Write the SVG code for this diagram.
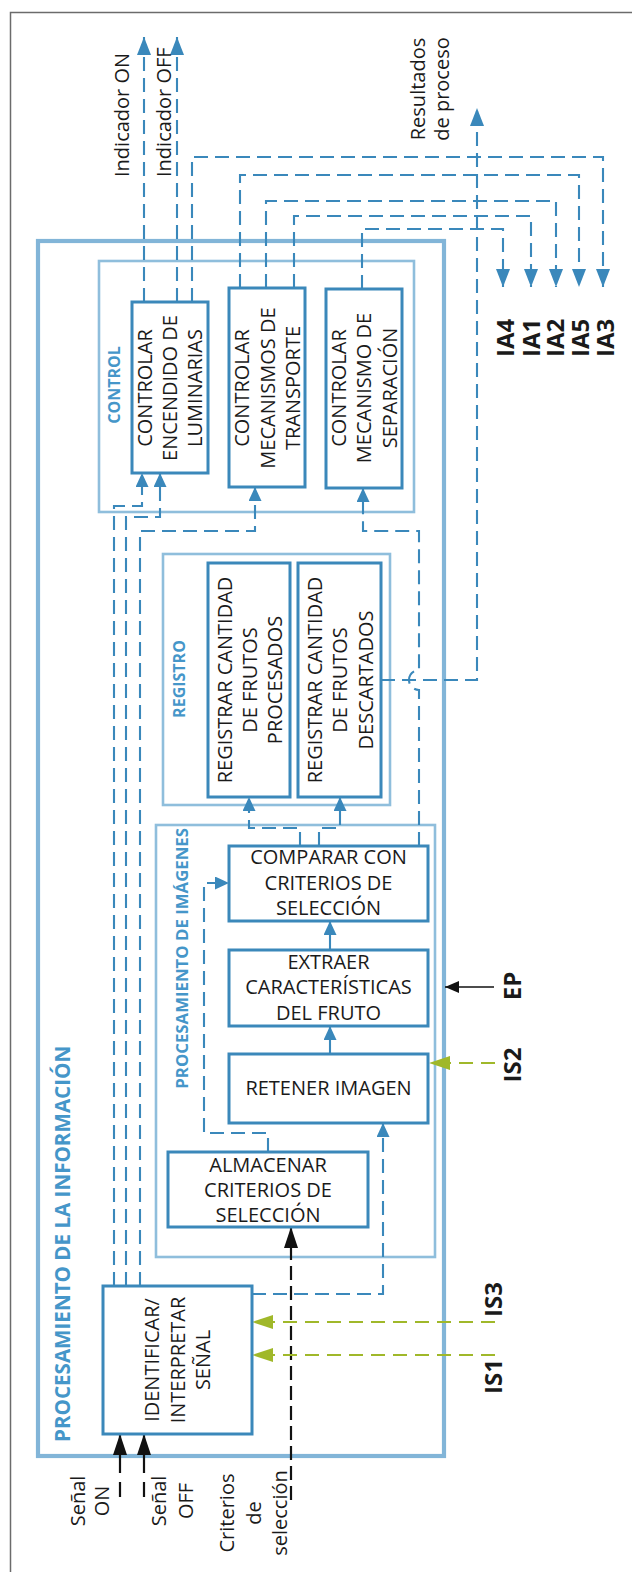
<svg xmlns="http://www.w3.org/2000/svg" width="632" height="1572" viewBox="0 0 632 1572">
<style>
text{font-family:"Open Sans","Liberation Sans",sans-serif;fill:#1a1a1a;font-size:20px}
.b{font-weight:bold}
.ttl{font-weight:bold;fill:#4596c9;font-size:16px}
.box{fill:#fff;stroke:#3b88ba;stroke-width:3}
.grp{fill:none;stroke:#8fbedc;stroke-width:2.6}
.outer{fill:none;stroke:#82b5d8;stroke-width:4.2}
.dash{fill:none;stroke:#3a88bb;stroke-width:2.1;stroke-dasharray:14 7}
.solid{fill:none;stroke:#3a88bb;stroke-width:2.1}
.blk{fill:none;stroke:#111;stroke-width:2.2}
.blkd{fill:none;stroke:#111;stroke-width:2.2;stroke-dasharray:14 6}
.grn{fill:none;stroke:#a0b82a;stroke-width:2.2;stroke-dasharray:14 8}
</style>
<defs>
<marker id="mB" markerUnits="userSpaceOnUse" markerWidth="14" markerHeight="13" refX="14" refY="6.5" orient="auto"><path d="M0,0 L14,6.5 L0,13 z" fill="#3a88bb"/></marker>
<marker id="mBL" markerUnits="userSpaceOnUse" markerWidth="18" markerHeight="14" refX="18" refY="7" orient="auto"><path d="M0,0 L18,7 L0,14 z" fill="#3a88bb"/></marker>
<marker id="mK" markerUnits="userSpaceOnUse" markerWidth="21" markerHeight="14" refX="21" refY="7" orient="auto"><path d="M0,0 L21,7 L0,14 z" fill="#111"/></marker>
<marker id="mKS" markerUnits="userSpaceOnUse" markerWidth="14" markerHeight="12" refX="14" refY="6" orient="auto"><path d="M0,0 L14,6 L0,12 z" fill="#111"/></marker>
<marker id="mG" markerUnits="userSpaceOnUse" markerWidth="21" markerHeight="14" refX="21" refY="7" orient="auto"><path d="M0,0 L21,7 L0,14 z" fill="#a0b82a"/></marker>
</defs>
<rect width="632" height="1572" fill="#fff"/>
<path d="M650,12.5 H10.5 V1580" fill="none" stroke="#6b6b6b" stroke-width="1.5"/>

<g id="outer">
<rect class="outer" x="38" y="241" width="406" height="1215"/>
<text class="b" transform="translate(70,1442) rotate(-90)" style="fill:#4596c9;font-size:20.6px">PROCESAMIENTO DE LA INFORMACIÓN</text>
</g>

<g id="control">
<rect class="grp" x="99" y="261" width="315" height="251"/>
<text class="ttl" transform="translate(120,385) rotate(-90)" text-anchor="middle">CONTROL</text>
</g>
<g id="registro">
<rect class="grp" x="163" y="554" width="227" height="251"/>
<text class="ttl" transform="translate(185,679) rotate(-90)" text-anchor="middle">REGISTRO</text>
</g>
<g id="procimg">
<rect class="grp" x="156" y="825" width="279" height="432"/>
<text class="ttl" style="font-size:16.8px" transform="translate(188,828) rotate(-90)" text-anchor="end">PROCESAMIENTO DE IMÁGENES</text>
</g>

<g id="connectors">
<path class="dash" d="M144,302 V37" marker-end="url(#mBL)"/>
<path class="dash" d="M177,302 V37" marker-end="url(#mBL)"/>
<path class="dash" d="M192,302 V157 H603 V287" marker-end="url(#mBL)"/>
<path class="dash" d="M240,288 V175 H579 V287" marker-end="url(#mBL)"/>
<path class="dash" d="M266,288 V201 H556 V287" marker-end="url(#mBL)"/>
<path class="dash" d="M294,288 V216 H531 V287" marker-end="url(#mBL)"/>
<path class="dash" d="M362,289 V229 H503 V287" marker-end="url(#mBL)"/>
<path class="dash" d="M381,680 H477 V108" marker-end="url(#mBL)"/>
<path class="dash" d="M419,846 V690 A10,10 0 0 1 419,670 V531 H363 V488" marker-end="url(#mB)"/>
<path class="dash" d="M140,1286 V531 H255 V487" marker-end="url(#mB)"/>
<path class="dash" d="M114,1286 V506 H142 V473" marker-end="url(#mB)"/>
<path class="dash" d="M126,1286 V517 H160 V473" marker-end="url(#mB)"/>
<path class="dash" d="M252,1294 H383 V1123" marker-end="url(#mB)"/>
<path class="dash" d="M268,1152 V1133 H204 V883 H229" marker-end="url(#mB)"/>
<path class="dash" d="M300,846 V828 H249 V797" marker-end="url(#mB)"/>
<path class="dash" d="M319,846 V828 H340 V797" marker-end="url(#mB)"/>
<path class="solid" d="M330,1054 V1026" marker-end="url(#mB)"/>
<path class="solid" d="M330,950 V921" marker-end="url(#mB)"/>
<path class="blkd" d="M291,1500 V1227" marker-end="url(#mK)"/>
<path class="blk" d="M120,1497 V1482 M120,1473 V1434" marker-end="url(#mK)"/>
<path class="blk" d="M144,1497 V1482 M144,1473 V1434" marker-end="url(#mK)"/>
<path class="blk" style="stroke-width:1.6" d="M494,987 H445" marker-end="url(#mKS)"/>
<path class="grn" d="M495,1063 H429" marker-end="url(#mG)"/>
<path class="grn" d="M495,1322 H252" marker-end="url(#mG)"/>
<path class="grn" d="M495,1355 H252" marker-end="url(#mG)"/>
</g>

<g id="lum">
<rect class="box" x="132" y="302" width="76" height="171"/>
<text transform="translate(152,388) rotate(-90)" text-anchor="middle"><tspan x="0" y="0">CONTROLAR</tspan><tspan x="0" y="25">ENCENDIDO DE</tspan><tspan x="0" y="50">LUMINARIAS</tspan></text>
</g>
<g id="trans">
<rect class="box" x="229" y="288" width="76" height="199"/>
<text transform="translate(249,388) rotate(-90)" text-anchor="middle"><tspan x="0" y="0">CONTROLAR</tspan><tspan x="0" y="26">MECANISMOS DE</tspan><tspan x="0" y="51">TRANSPORTE</tspan></text>
</g>
<g id="sep">
<rect class="box" x="326" y="289" width="76" height="199"/>
<text transform="translate(346,388) rotate(-90)" text-anchor="middle"><tspan x="0" y="0">CONTROLAR</tspan><tspan x="0" y="25">MECANISMO DE</tspan><tspan x="0" y="51">SEPARACIÓN</tspan></text>
</g>
<g id="proc">
<rect class="box" x="208" y="563" width="82" height="234"/>
<text transform="translate(232,680) rotate(-90)" text-anchor="middle"><tspan x="0" y="0">REGISTRAR CANTIDAD</tspan><tspan x="0" y="25">DE FRUTOS</tspan><tspan x="0" y="50">PROCESADOS</tspan></text>
</g>
<g id="desc">
<rect class="box" x="298" y="563" width="83" height="234"/>
<text transform="translate(322,680) rotate(-90)" text-anchor="middle"><tspan x="0" y="0">REGISTRAR CANTIDAD</tspan><tspan x="0" y="25">DE FRUTOS</tspan><tspan x="0" y="51">DESCARTADOS</tspan></text>
</g>
<g id="comparar">
<rect class="box" x="229" y="846" width="199" height="75"/>
<text text-anchor="middle"><tspan x="328.5" y="864">COMPARAR CON</tspan><tspan x="328.5" y="890">CRITERIOS DE</tspan><tspan x="328.5" y="915">SELECCIÓN</tspan></text>
</g>
<g id="extraer">
<rect class="box" x="229" y="950" width="199" height="76"/>
<text text-anchor="middle"><tspan x="328.5" y="969">EXTRAER</tspan><tspan x="328.5" y="994">CARACTERÍSTICAS</tspan><tspan x="328.5" y="1020">DEL FRUTO</tspan></text>
</g>
<g id="retener">
<rect class="box" x="229" y="1054" width="199" height="69"/>
<text x="328.5" y="1095" text-anchor="middle">RETENER IMAGEN</text>
</g>
<g id="almacenar">
<rect class="box" x="168" y="1152" width="200" height="75"/>
<text text-anchor="middle"><tspan x="268" y="1172">ALMACENAR</tspan><tspan x="268" y="1197">CRITERIOS DE</tspan><tspan x="268" y="1222">SELECCIÓN</tspan></text>
</g>
<g id="identificar">
<rect class="box" x="103" y="1286" width="149" height="148"/>
<text transform="translate(159,1360) rotate(-90)" text-anchor="middle"><tspan x="0" y="0">IDENTIFICAR/</tspan><tspan x="0" y="26">INTERPRETAR</tspan><tspan x="0" y="51">SEÑAL</tspan></text>
</g>

<g id="labels">
<text transform="translate(129,177) rotate(-90)">Indicador ON</text>
<text transform="translate(171,177) rotate(-90)">Indicador OFF</text>
<text transform="translate(425,89) rotate(-90)" text-anchor="middle"><tspan x="0" y="0">Resultados</tspan><tspan x="0" y="24">de proceso</tspan></text>
<text class="b" style="font-size:24px" transform="translate(514,357) rotate(-90)">IA4</text>
<text class="b" style="font-size:24px" transform="translate(540,357) rotate(-90)">IA1</text>
<text class="b" style="font-size:24px" transform="translate(564,357) rotate(-90)">IA2</text>
<text class="b" style="font-size:24px" transform="translate(589,357) rotate(-90)">IA5</text>
<text class="b" style="font-size:24px" transform="translate(614,357) rotate(-90)">IA3</text>
<text class="b" style="font-size:24px" transform="translate(521,986) rotate(-90)" text-anchor="middle">EP</text>
<text class="b" style="font-size:24px" transform="translate(521,1065) rotate(-90)" text-anchor="middle">IS2</text>
<text class="b" style="font-size:24px" transform="translate(502,1317) rotate(-90)">IS3</text>
<text class="b" style="font-size:24px" transform="translate(502,1394) rotate(-90)">IS1</text>
<text transform="translate(85,1501) rotate(-90)" text-anchor="middle"><tspan x="0" y="0">Señal</tspan><tspan x="0" y="24">ON</tspan></text>
<text transform="translate(166,1501) rotate(-90)" text-anchor="middle"><tspan x="0" y="0">Señal</tspan><tspan x="0" y="27">OFF</tspan></text>
<text transform="translate(234,1513) rotate(-90)" text-anchor="middle"><tspan x="0" y="0">Criterios</tspan><tspan x="0" y="27">de</tspan><tspan x="0" y="53">selección</tspan></text>
</g>
</svg>
